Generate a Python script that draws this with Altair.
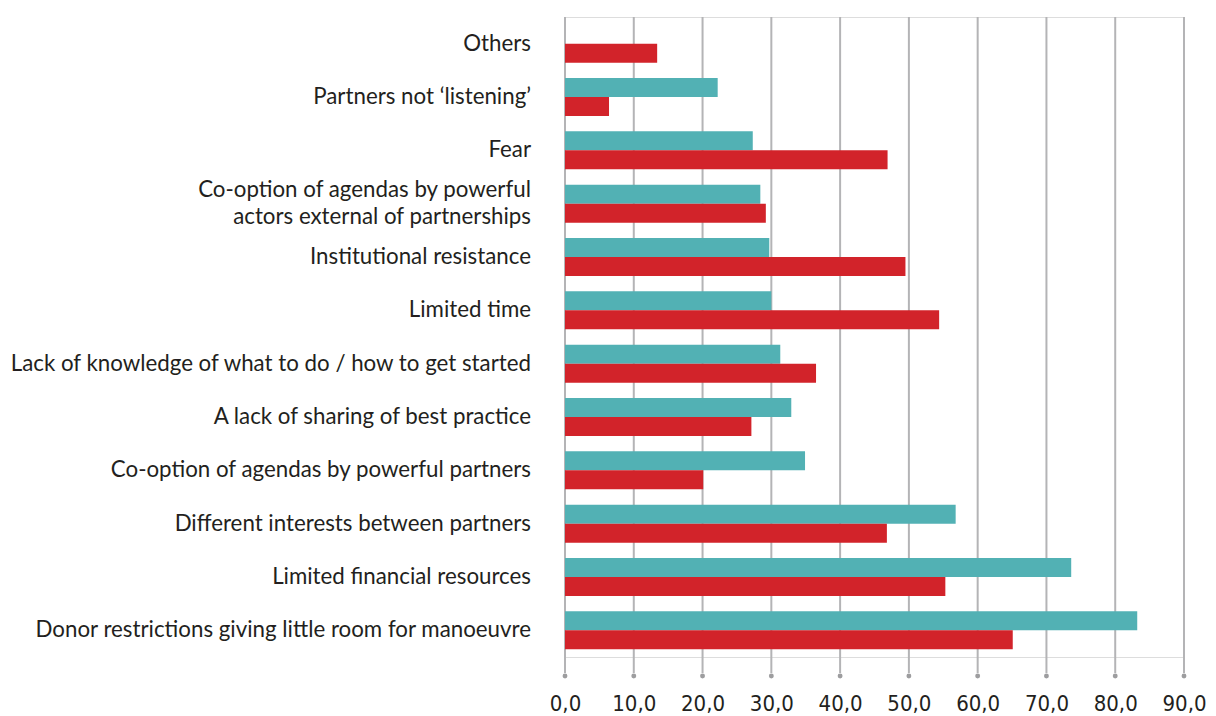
import altair as alt
import pandas as pd

categories = [
    "Others",
    "Partners not \u2018listening\u2019",
    "Fear",
    "Co-option of agendas by powerful\nactors external of partnerships",
    "Institutional resistance",
    "Limited time",
    "Lack of knowledge of what to do / how to get started",
    "A lack of sharing of best practice",
    "Co-option of agendas by powerful partners",
    "Different interests between partners",
    "Limited financial resources",
    "Donor restrictions giving little room for manoeuvre",
]
teal_values = [None, 22.2, 27.3, 28.4, 29.7, 30.0, 31.3, 32.9, 34.9, 56.8, 73.6, 83.2]
red_values = [13.4, 6.4, 46.9, 29.2, 49.5, 54.4, 36.5, 27.1, 20.1, 46.8, 55.3, 65.1]
series_names = ["Series 1", "Series 2"]
series_colors = ["#52b1b4", "#d2232a"]
tick_values = [0, 10, 20, 30, 40, 50, 60, 70, 80, 90]

rows = []
for c, t, r in zip(categories, teal_values, red_values):
    if t is not None:
        rows.append({"category": c, "series": series_names[0], "value": t})
    if r is not None:
        rows.append({"category": c, "series": series_names[1], "value": r})
bars_df = pd.DataFrame(rows)
labels_df = pd.DataFrame({"category": categories})
ticks_df = pd.DataFrame({"v": tick_values})

x_scale = alt.Scale(domain=[0, 90], nice=False, zero=True)
y_scale = alt.Scale(domain=categories, paddingInner=0.2875, paddingOuter=0.14375)

x_axis = alt.Axis(
    values=tick_values,
    domain=False,
    ticks=False,
    grid=False,
    title=None,
    labelExpr="replace(format(datum.value, '.1f'), '.', ',')",
    labelFont="Liberation Sans Narrow, DejaVu Sans Condensed, sans-serif",
    labelFontSize=22,
    labelColor="#231f20",
    labelBaseline="middle",
    labelPadding=46,
    labelFlush=False,
    labelOverlap=False,
)

grid = alt.Chart(ticks_df).mark_rule(color="#b4b4b6", strokeWidth=2).encode(
    x=alt.X("v:Q", scale=x_scale, axis=x_axis),
    y=alt.value(0),
    y2=alt.value(656),
)

dots = alt.Chart(ticks_df).mark_circle(size=24, color="#9d9d9f", opacity=1).encode(
    x=alt.X("v:Q", scale=x_scale, axis=x_axis),
    y=alt.value(659),
)

bars = alt.Chart(bars_df).mark_bar().encode(
    x=alt.X("value:Q", scale=x_scale, axis=x_axis),
    y=alt.Y("category:N", sort=categories, scale=y_scale, axis=None),
    yOffset=alt.YOffset(
        "series:N", sort=series_names, scale=alt.Scale(domain=series_names, paddingInner=0, paddingOuter=0)
    ),
    color=alt.Color(
        "series:N", scale=alt.Scale(domain=series_names, range=series_colors), legend=None
    ),
)

label_props = dict(
    align="right",
    baseline="middle",
    lineBreak="\n",
    lineHeight=27,
    font="Lato",
    fontSize=22.3,
    color="#231f20",
)

labels_single = alt.Chart(labels_df).transform_filter(
    "indexof(datum.category, '\\n') < 0"
).mark_text(**label_props).encode(
    x=alt.value(-34),
    y=alt.Y("category:N", sort=categories, scale=y_scale, axis=None),
    text="category:N",
)

labels_multi = alt.Chart(labels_df).transform_filter(
    "indexof(datum.category, '\\n') >= 0"
).mark_text(dy=-13.5, **label_props).encode(
    x=alt.value(-34),
    y=alt.Y("category:N", sort=categories, scale=y_scale, axis=None),
    text="category:N",
)

chart = (
    alt.layer(grid, dots, bars, labels_single, labels_multi)
    .properties(
        width=619,
        height=640,
        autosize=alt.AutoSizeParams(type="none"),
        padding={"left": 557, "top": 9, "right": 24, "bottom": 58},
    )
    .configure_view(stroke="transparent", strokeWidth=0)
    .configure_axis(domain=False, grid=False, ticks=False)
    .configure(background="white")
)

chart.save("out.html", embed_options={"renderer": "svg", "actions": False})
